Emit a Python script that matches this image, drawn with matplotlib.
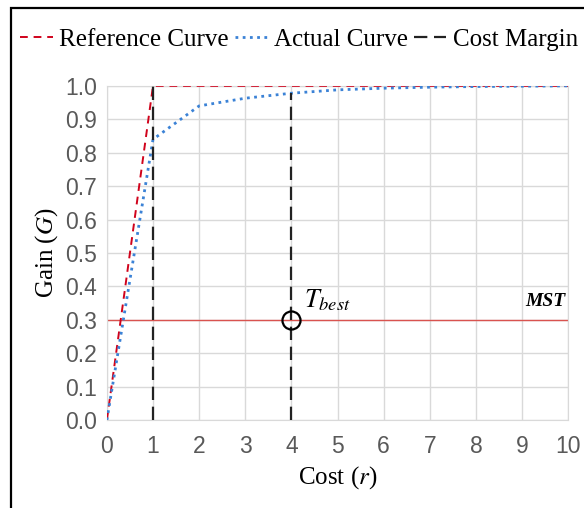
import matplotlib.pyplot as plt
from matplotlib.patches import Rectangle

cost = [0, 1, 2, 3, 4, 5, 6, 7, 8, 9, 10]
reference_x = [0, 1, 10]
reference_gain = [0, 1.0, 1.0]
actual_gain = [0, 0.84, 0.94, 0.963, 0.978, 0.988, 0.993, 0.996, 0.998, 0.999, 1.0]
margin_x = [1, 4]
margin_top = [1.0, 0.978]
mst_level = 0.3
t_best = (4, 0.3)

serif = 'Liberation Serif'
sans = 'Liberation Sans'
plt.rcParams['mathtext.fontset'] = 'stix'

fig = plt.figure(figsize=(5.84, 5.08), dpi=100)
ax = fig.add_axes([0.183, 0.173, 0.79, 0.658])

ax.plot(reference_x, reference_gain, color='#d0021b', ls=(0, (4, 3)), lw=1.4,
        label='Reference Curve', zorder=3)
ax.plot(cost, actual_gain, color='#3b82d6', ls=(0, (1, 1.6)), lw=2.0,
        label='Actual Curve', zorder=3)
for mx, mt in zip(margin_x, margin_top):
    ax.plot([mx, mx], [0, mt], color='#222222', ls=(0, (6, 3)), lw=1.6,
            label='Cost Margin' if mx == margin_x[0] else None, zorder=4)
ax.axhline(mst_level, color='#d9534f', lw=1.0, zorder=2)
ax.plot(*t_best, marker='o', ms=13, mfc='none', mec='black', mew=1.6, zorder=5)
ax.text(t_best[0] + 0.28, t_best[1] + 0.02, r'$T_{best}$', fontsize=19,
        va='bottom', ha='left')
ax.text(9.93, 0.33, 'MST', fontsize=14, family=serif, style='italic',
        weight='bold', ha='right', va='bottom')

ax.set_xlim(0, 10)
ax.set_ylim(0, 1.0)
ax.set_xticks(range(0, 11))
ax.set_yticks([i / 10 for i in range(11)])
ax.set_yticklabels([f'{i / 10:.1f}' for i in range(11)])
ax.grid(True, color='#d9d9d9', lw=1.0)
ax.set_axisbelow(True)
for s in ax.spines.values():
    s.set_color('#d9d9d9')
ax.tick_params(length=0, labelsize=16.5, labelcolor='#595959')
ax.tick_params(axis='x', pad=11)
ax.tick_params(axis='y', pad=7)
for lbl in ax.get_xticklabels() + ax.get_yticklabels():
    lbl.set_family(sans)

ax.set_xlabel('Cost ($r$)', fontsize=18, family=serif, labelpad=4)
ax.set_ylabel('Gain ($G$)', fontsize=18, family=serif, labelpad=4)

fig.legend(loc='upper center', bbox_to_anchor=(0.512, 0.978), ncol=3, frameon=False,
           prop={'family': serif, 'size': 18}, handlelength=1.3, handletextpad=0.25,
           columnspacing=0.25, borderpad=0.2)

fig.add_artist(Rectangle((0.019, -0.1), 1.2, 1.084, transform=fig.transFigure,
                         fill=False, ec='black', lw=1.6))

fig.savefig('out.png', dpi=100)
